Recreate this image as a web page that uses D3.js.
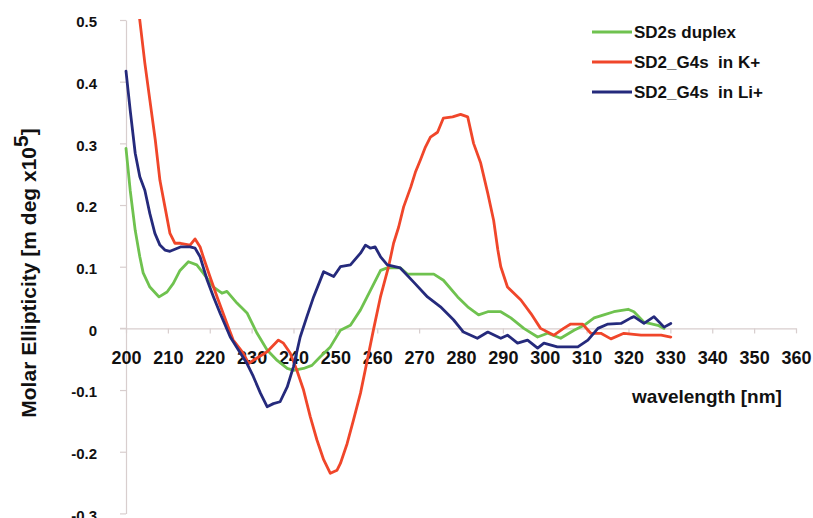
<!DOCTYPE html>
<html>
<head>
<meta charset="utf-8">
<script src="https://cdn.jsdelivr.net/npm/d3@7"></script>
<style>
  html, body { margin: 0; padding: 0; background: #ffffff; }
  svg { display: block; }
  text { font-family: "Liberation Sans", Arial, Helvetica, sans-serif; font-weight: bold; fill: #111; }
</style>
</head>
<body>
<svg id="chart" width="813" height="518"></svg>
<script>
// ---- Data (wavelength nm, molar ellipticity x10^5) ----
const seriesNames = ["SD2s duplex", "SD2_G4s  in K+", "SD2_G4s  in Li+"];
const seriesColors = ["#6fc24f", "#f0462a", "#252a7c"];

const duplex = [
  [200,0.292],[201,0.224],[202.2,0.159],[203.3,0.116],[204.1,0.09],[205.7,0.067],[207.9,0.051],
  [209.8,0.059],[211.3,0.073],[212.9,0.094],[214.9,0.108],[216.9,0.103],[218.4,0.09],[220.9,0.067],
  [222.9,0.057],[224.1,0.06],[226.5,0.041],[228.9,0.025],[231.3,-0.008],[233.7,-0.035],[236.1,-0.052],
  [238.5,-0.065],[240,-0.068],[242.4,-0.065],[244.4,-0.06],[246.4,-0.046],[248.8,-0.03],[251.2,-0.003],
  [253.6,0.005],[256,0.03],[258.4,0.062],[260.8,0.094],[262.4,0.098],[265.5,0.098],[267.2,0.088],
  [273.5,0.088],[275.8,0.078],[279.2,0.051],[281.6,0.035],[284.2,0.022],[286.4,0.027],[289.5,0.027],
  [291.9,0.017],[295,0.0],[298.3,-0.014],[300.7,-0.008],[303.8,-0.016],[307,-0.003],[309.4,0.005],
  [311.8,0.017],[314.1,0.022],[316.5,0.027],[319.9,0.031],[321.3,0.027],[323.7,0.01],[327,0.005],[328.5,0.0]
];

const g4sK = [
  [203.2,0.505],[204.5,0.43],[205.7,0.37],[207,0.305],[208.1,0.24],[209.3,0.197],[210.5,0.154],
  [211.7,0.138],[213,0.138],[215.3,0.135],[216.5,0.145],[217.7,0.132],[218.5,0.115],[220,0.085],
  [221.8,0.05],[224.1,0.008],[225.6,-0.019],[228,-0.04],[229.3,-0.057],[231.3,-0.048],[233.7,-0.038],
  [236.4,-0.019],[237.6,-0.024],[239.2,-0.04],[240.8,-0.068],[242.4,-0.1],[244,-0.143],[245.6,-0.181],
  [247.2,-0.213],[248.8,-0.235],[250.4,-0.23],[251.2,-0.219],[252.8,-0.187],[254.3,-0.149],[256,-0.105],
  [257.6,-0.052],[259.1,-0.002],[260.8,0.052],[262.7,0.1],[263.9,0.138],[265.1,0.164],[266.3,0.197],
  [268,0.229],[269.1,0.253],[270.3,0.273],[271.5,0.294],[272.7,0.31],[274.4,0.318],[275.8,0.341],
  [278,0.343],[279.9,0.347],[281.6,0.343],[283,0.3],[284.7,0.268],[286.4,0.219],[287.8,0.175],
  [288.8,0.127],[289.5,0.1],[291.1,0.067],[294.3,0.046],[296.7,0.024],[299,0.0],[302.2,-0.011],
  [304.5,0.0],[306.2,0.007],[309,0.007],[311,-0.008],[313.4,-0.008],[315.8,-0.017],[318.9,-0.008],
  [323,-0.011],[327.8,-0.011],[330.1,-0.014]
];

const g4sLi = [
  [200,0.417],[201,0.354],[202.2,0.284],[203.3,0.246],[204.5,0.224],[205.7,0.186],[206.9,0.154],
  [208.1,0.135],[209.3,0.127],[210.5,0.125],[213,0.132],[215.3,0.132],[216.5,0.13],[217.7,0.116],
  [219.4,0.078],[220.9,0.051],[222.5,0.024],[224.9,-0.014],[227.3,-0.04],[228.9,-0.057],[230.4,-0.078],
  [232.1,-0.105],[233.7,-0.127],[235.2,-0.122],[236.8,-0.119],[238.5,-0.095],[240,-0.062],[241.6,-0.014],
  [243.2,0.019],[244.8,0.051],[247.2,0.092],[249.6,0.084],[251.2,0.1],[253.6,0.103],[256,0.122],
  [257.2,0.135],[258.4,0.13],[259.5,0.132],[260.8,0.116],[262.4,0.103],[265.5,0.098],[268.7,0.075],
  [272,0.051],[275.1,0.035],[278.2,0.014],[280.6,-0.006],[283.9,-0.016],[286.4,-0.006],[289.5,-0.016],
  [291.1,-0.011],[293.5,-0.024],[295.9,-0.019],[298.3,-0.032],[299.8,-0.024],[303,-0.03],[307.9,-0.03],
  [310.3,-0.019],[312.7,0.0],[315.1,0.007],[318.2,0.008],[320.6,0.017],[321.3,0.019],[323.7,0.008],
  [326.1,0.019],[328.5,0.002],[330.1,0.008]
];

const xTicks = [200,210,220,230,240,250,260,270,280,290,300,310,320,330,340,350,360];
const yTicks = [-0.3,-0.2,-0.1,0,0.1,0.2,0.3,0.4,0.5];
const yTickLabels = ["-0.3","-0.2","-0.1","0","0.1","0.2","0.3","0.4","0.5"];

// ---- Layout ----
const svg = d3.select("#chart");
const axisColor = "#d8cece";
const x = d3.scaleLinear().domain([200, 360]).range([126, 796]);
const y = d3.scaleLinear().domain([-0.3, 0.5]).range([513.4, 20]);

// Y axis
const yAxis = d3.axisLeft(y).tickValues(yTicks).tickSize(6).tickSizeOuter(0).tickPadding(23)
  .tickFormat((d, i) => yTickLabels[i]);
const gy = svg.append("g").attr("transform", `translate(${x(200)},0)`).call(yAxis);
gy.select(".domain").attr("stroke", axisColor).attr("stroke-width", 1.2);
gy.selectAll(".tick line").attr("stroke", axisColor).attr("stroke-width", 1.2);
gy.selectAll(".tick text").attr("font-size", 15).attr("fill", "#111")
  .attr("font-family", "Liberation Sans, Arial, sans-serif").attr("font-weight", "bold").attr("dy", "0.45em");

// X axis at y = 0
const xAxis = d3.axisBottom(x).tickValues(xTicks).tickSize(5).tickSizeOuter(0).tickFormat(d3.format("d"));
const gx = svg.append("g").attr("transform", `translate(0,${y(0)})`).call(xAxis);
gx.select(".domain").attr("stroke", axisColor).attr("stroke-width", 1.2);
gx.selectAll(".tick line").attr("stroke", axisColor).attr("stroke-width", 1.2);
gx.selectAll(".tick text").attr("font-size", 18).attr("fill", "#111")
  .attr("font-family", "Liberation Sans, Arial, sans-serif").attr("font-weight", "bold")
  .attr("y", 29).attr("dy", "0.36em");
gx.append("line").attr("x1", x(200) - 6).attr("x2", x(200)).attr("y1", 0).attr("y2", 0)
  .attr("stroke", axisColor).attr("stroke-width", 1.2);

// Clip
svg.append("clipPath").attr("id", "plotclip").append("rect")
  .attr("x", x(200) - 2).attr("y", y(0.5) - 1).attr("width", x(360) - x(200) + 4).attr("height", y(-0.3) - y(0.5) + 2);

// Lines
const line = d3.line().x(d => x(d[0])).y(d => y(d[1]));
const allSeries = [duplex, g4sK, g4sLi];
const plot = svg.append("g").attr("clip-path", "url(#plotclip)");
allSeries.forEach((s, i) => {
  plot.append("path").datum(s).attr("d", line)
    .attr("fill", "none").attr("stroke", seriesColors[i]).attr("stroke-width", 2.8)
    .attr("stroke-linejoin", "round").attr("stroke-linecap", "round");
});

// Legend
const legendY = [32, 62, 92];
const lg = svg.append("g");
seriesNames.forEach((n, i) => {
  lg.append("line").attr("x1", 592).attr("x2", 632).attr("y1", legendY[i]).attr("y2", legendY[i])
    .attr("stroke", seriesColors[i]).attr("stroke-width", 2.8);
  lg.append("text").attr("x", 634).attr("y", legendY[i]).attr("dy", "0.36em")
    .attr("font-size", 17).style("white-space", "pre").text(n);
});

// Axis titles
svg.append("text").attr("x", 707).attr("y", 396).attr("dy", "0.36em").attr("text-anchor", "middle")
  .attr("font-size", 19).text("wavelength [nm]");

const yt = svg.append("text").attr("transform", "translate(36,273) rotate(-90)")
  .attr("text-anchor", "middle").attr("font-size", 21);
yt.append("tspan").text("Molar Ellipticity [m deg x10");
yt.append("tspan").attr("dy", "-0.4em").text("5");
yt.append("tspan").attr("dy", "0.4em").text("]");
</script>
</body>
</html>
